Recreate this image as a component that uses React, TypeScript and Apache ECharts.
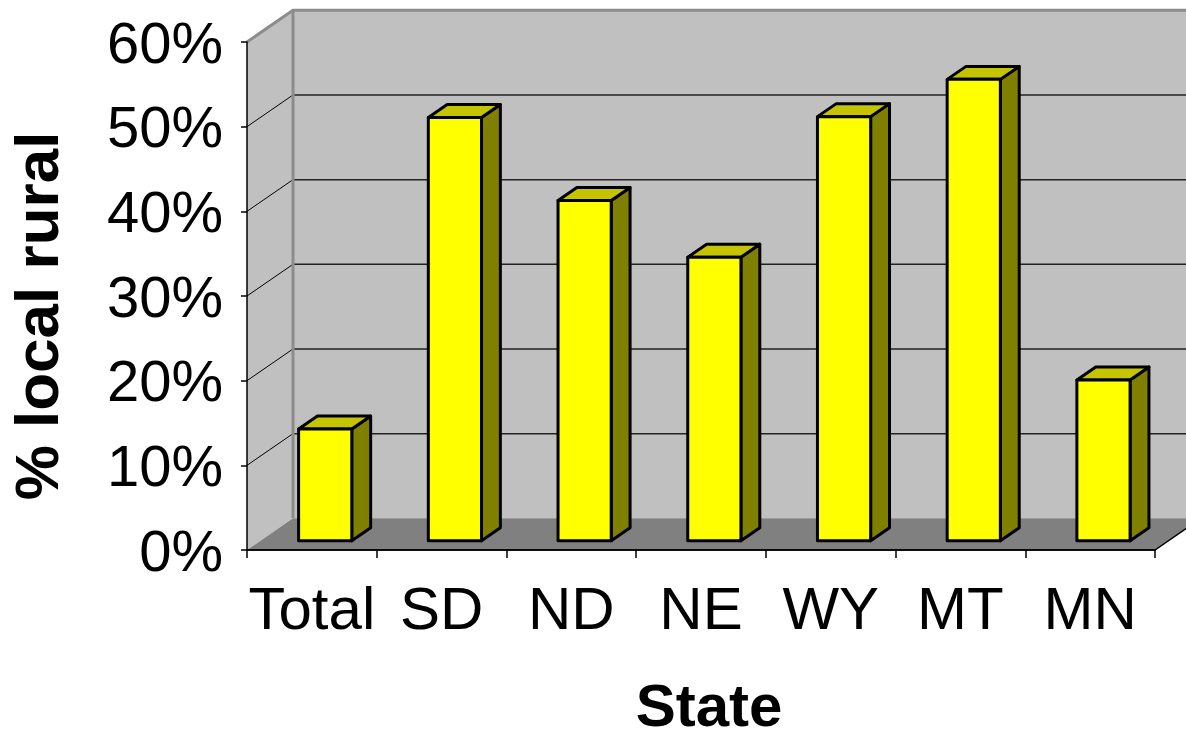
import React, { useEffect, useRef } from "react";
import * as echarts from "echarts";

const categories = ["Total", "SD", "ND", "NE", "WY", "MT", "MN"];
const values = [0.132, 0.5, 0.402, 0.335, 0.501, 0.545, 0.19];
const yTicks = [0, 0.1, 0.2, 0.3, 0.4, 0.5, 0.6];
const xTitle = "State";
const yTitle = "% local rural";

const FONT = "'Liberation Sans', Arial, Helvetica, sans-serif";
const DX = 46;
const DY = -31.7;
const FRONT = 0.29;
const BAR_DEPTH = 0.41;
const BAR_W = 0.41;

export default function App() {
  const ref = useRef<HTMLDivElement>(null);
  useEffect(() => {
    if (!ref.current) return;
    const chart = echarts.init(ref.current, undefined, { renderer: "svg" });
    const option: any = {
      animation: false,
      backgroundColor: "#ffffff",
      grid: {
        left: 247,
        top: 42,
        width: 908,
        height: 508,
        containLabel: false,
        outerBoundsMode: "none",
      },
      xAxis: {
        type: "category",
        data: categories,
        z: 5,
        axisLine: { lineStyle: { color: "#000", width: 1.5 } },
        axisTick: { show: true, interval: 0, length: 8, lineStyle: { color: "#000", width: 1.5 } },
        axisLabel: { color: "#000", fontSize: 60, fontFamily: FONT, margin: 28, interval: 0, hideOverlap: false },
        name: xTitle,
        nameLocation: "middle",
        nameGap: 125,
        nameTextStyle: {
          color: "#000",
          fontSize: 60,
          fontWeight: "bold",
          fontFamily: FONT,
          padding: [0, 0, 0, 16],
        },
        splitLine: { show: false },
      },
      yAxis: {
        type: "value",
        min: 0,
        max: 0.6,
        interval: 0.1,
        z: 5,
        axisLine: { show: true, lineStyle: { color: "#000", width: 1.5 } },
        axisTick: { show: true, length: 6, lineStyle: { color: "#000", width: 1.5 } },
        axisLabel: {
          color: "#000",
          fontSize: 58,
          fontFamily: FONT,
          margin: 24,
          formatter: (v: number) => Math.round(v * 100) + "%",
        },
        splitLine: { show: false },
      },
      graphic: [
        {
          type: "text",
          x: 36,
          y: 316,
          rotation: Math.PI / 2,
          style: {
            text: yTitle,
            font: `bold 62px ${FONT}`,
            fill: "#000",
            textAlign: "center",
            textVerticalAlign: "middle",
          },
        },
      ],
      series: [
        {
          type: "custom",
          z: 1,
          clip: false,
          silent: true,
          data: [[0, 0]],
          renderItem: (params: any, api: any) => {
            const cs = params.coordSys;
            const x0 = cs.x;
            const x1 = cs.x + cs.width;
            const yTop = cs.y;
            const yBot = cs.y + cs.height;
            const children: any[] = [];
            children.push({
              type: "polygon",
              shape: { points: [[x0, yTop], [x0 + DX, yTop + DY], [x0 + DX, yBot + DY], [x0, yBot]] },
              style: { fill: "#C0C0C0", stroke: "none" },
            });
            children.push({
              type: "rect",
              shape: { x: x0 + DX, y: yTop + DY, width: x1 - x0 + 10, height: cs.height },
              style: { fill: "#C0C0C0", stroke: "none" },
            });
            children.push({
              type: "polygon",
              shape: { points: [[x0, yBot], [x0 + DX, yBot + DY], [x1 + DX, yBot + DY], [x1, yBot]] },
              style: { fill: "#808080", stroke: "none" },
            });
            children.push({
              type: "polyline",
              shape: { points: [[x0, yBot], [x1, yBot], [x1 + DX, yBot + DY]] },
              style: { fill: "none", stroke: "#000", lineWidth: 1.5 },
            });
            yTicks.forEach((v) => {
              if (v === 0 || v === 0.6) return;
              const y = api.coord([0, v])[1];
              children.push({
                type: "line",
                shape: { x1: x0, y1: y, x2: x0 + DX, y2: y + DY },
                style: { stroke: "#000", lineWidth: 1 },
              });
              children.push({
                type: "line",
                shape: { x1: x0 + DX, y1: y + DY, x2: x1 + DX + 10, y2: y + DY },
                style: { stroke: "#222", lineWidth: 1.5 },
              });
            });
            children.push({
              type: "polyline",
              shape: { points: [[x0, yTop], [x0 + DX, yTop + DY], [x1 + DX + 10, yTop + DY]] },
              style: { fill: "none", stroke: "#8C8C8C", lineWidth: 3 },
            });
            children.push({
              type: "line",
              shape: { x1: x0 + DX, y1: yTop + DY, x2: x0 + DX, y2: yBot + DY },
              style: { stroke: "#8C8C8C", lineWidth: 3 },
            });
            return { type: "group", children };
          },
        },
        {
          type: "custom",
          z: 2,
          clip: false,
          data: categories.map((c, i) => [i, values[i]]),
          encode: { x: 0, y: 1 },
          renderItem: (params: any, api: any) => {
            const idx = api.value(0);
            const v = api.value(1);
            const base = api.coord([idx, 0]);
            const top = api.coord([idx, v]);
            const cw = api.size([1, 0])[0];
            const w = cw * BAR_W;
            const fx = DX * FRONT;
            const fy = DY * FRONT;
            const bx = DX * BAR_DEPTH;
            const by = DY * BAR_DEPTH;
            const left = base[0] - w / 2 + fx;
            const right = left + w;
            const y0 = base[1] + fy;
            const y1 = top[1] + fy;
            const stroke = { stroke: "#000", lineWidth: 3, lineJoin: "round" };
            return {
              type: "group",
              children: [
                {
                  type: "polygon",
                  shape: { points: [[right, y1], [right + bx, y1 + by], [right + bx, y0 + by], [right, y0]] },
                  style: { fill: "#808000", ...stroke },
                },
                {
                  type: "polygon",
                  shape: { points: [[left, y1], [left + bx, y1 + by], [right + bx, y1 + by], [right, y1]] },
                  style: { fill: "#C4C400", ...stroke },
                },
                {
                  type: "rect",
                  shape: { x: left, y: y1, width: w, height: y0 - y1 },
                  style: { fill: "#FFFF00", ...stroke },
                },
              ],
            };
          },
        },
      ],
    };
    chart.setOption(option);
    return () => chart.dispose();
  }, []);
  return (
    <div
      ref={ref}
      style={{ position: "absolute", left: 0, top: 0, width: 1186, height: 741, background: "#fff" }}
    />
  );
}
